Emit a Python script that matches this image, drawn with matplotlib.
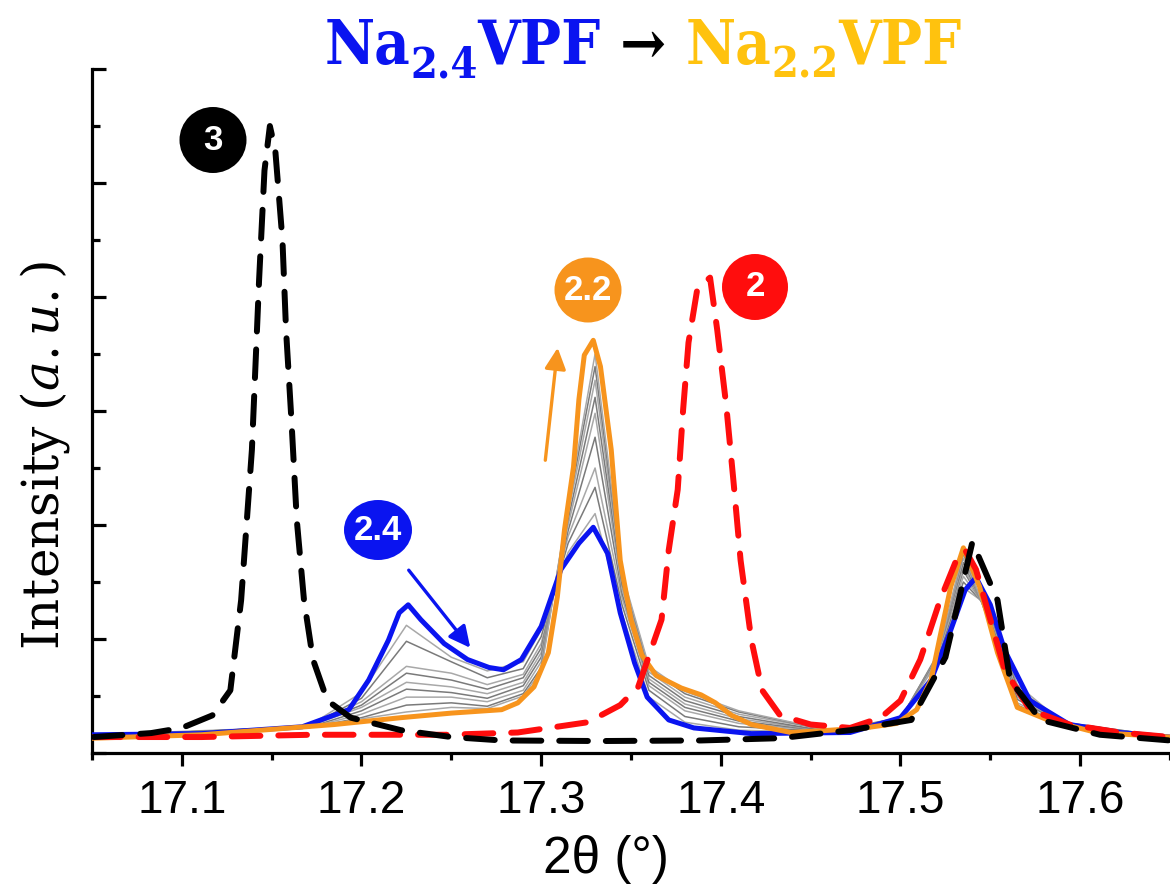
import numpy as np
import matplotlib
matplotlib.use("Agg")
import matplotlib.pyplot as plt
from matplotlib.patches import Ellipse, FancyArrowPatch
from matplotlib.transforms import IdentityTransform

plt.rcParams["mathtext.fontset"] = "dejavuserif"

# sample "3" (black dashed)
x3 = [17.051, 17.083, 17.100, 17.117, 17.127, 17.133, 17.139, 17.143, 17.146, 17.149,
      17.152, 17.156, 17.158, 17.161, 17.164, 17.168, 17.173, 17.181, 17.194, 17.222,
      17.250, 17.278, 17.333, 17.389, 17.433, 17.472, 17.506, 17.525, 17.540, 17.554,
      17.561, 17.578, 17.611, 17.650]
y3 = [0.14, 0.175, 0.22, 0.33, 0.55, 1.34, 2.66, 4.15, 5.11, 5.50,
      5.29, 4.50, 3.71, 2.92, 2.04, 1.34, 0.82, 0.46, 0.31, 0.20,
      0.14, 0.11, 0.105, 0.11, 0.13, 0.20, 0.29, 0.84, 1.85, 1.34,
      0.64, 0.29, 0.16, 0.11]

# sample "2" (red dashed)
x2 = [17.050, 17.111, 17.172, 17.209, 17.248, 17.287, 17.326, 17.344, 17.354, 17.367,
      17.371, 17.376, 17.379, 17.382, 17.387, 17.394, 17.398, 17.403, 17.407, 17.411,
      17.417, 17.423, 17.433, 17.450, 17.472, 17.489, 17.500, 17.511, 17.522, 17.531,
      17.536, 17.542, 17.550, 17.558, 17.572, 17.594, 17.622, 17.650]
y2 = [0.14, 0.14, 0.16, 0.16, 0.16, 0.18, 0.27, 0.42, 0.58, 1.17,
      1.78, 2.31, 3.01, 3.60, 4.08, 4.17, 3.71, 3.05, 2.39, 1.69,
      0.99, 0.55, 0.33, 0.25, 0.22, 0.31, 0.46, 0.82, 1.34, 1.69,
      1.78, 1.61, 1.17, 0.73, 0.38, 0.25, 0.18, 0.14]

# Na2.4 (blue)
x24 = [17.051, 17.111, 17.167, 17.193, 17.204, 17.215, 17.221, 17.226, 17.233, 17.246,
       17.259, 17.271, 17.279, 17.289, 17.300, 17.311, 17.321, 17.329, 17.337, 17.344,
       17.352, 17.359, 17.371, 17.385, 17.417, 17.472, 17.500, 17.517, 17.528, 17.536,
       17.542, 17.550, 17.558, 17.572, 17.594, 17.622, 17.650]
y24 = [0.16, 0.17, 0.23, 0.38, 0.64, 0.99, 1.23, 1.30, 1.17, 0.96,
       0.82, 0.75, 0.73, 0.82, 1.11, 1.61, 1.84, 1.98, 1.75, 1.23,
       0.79, 0.49, 0.29, 0.22, 0.17, 0.18, 0.31, 0.64, 1.08, 1.43,
       1.54, 1.30, 0.90, 0.46, 0.25, 0.18, 0.14]

# Na2.2 (orange)
x22 = [17.051, 17.111, 17.185, 17.222, 17.250, 17.278, 17.287, 17.296, 17.304, 17.309,
       17.313, 17.318, 17.321, 17.324, 17.329, 17.333, 17.339, 17.344, 17.350, 17.356,
       17.364, 17.378, 17.389, 17.397, 17.406, 17.417, 17.439, 17.461, 17.480, 17.498,
       17.509, 17.517, 17.522, 17.528, 17.535, 17.544, 17.554, 17.565, 17.582, 17.609,
       17.650]
y22 = [0.13, 0.16, 0.25, 0.31, 0.35, 0.38, 0.44, 0.58, 0.88, 1.37,
       1.96, 2.51, 3.10, 3.49, 3.62, 3.39, 2.66, 1.69, 1.17, 0.86,
       0.68, 0.57, 0.51, 0.44, 0.33, 0.25, 0.18, 0.20, 0.22, 0.26,
       0.38, 0.64, 1.02, 1.46, 1.80, 1.46, 0.88, 0.40, 0.29, 0.18,
       0.14]

# intermediate scans (grey)
xg = [17.05, 17.17, 17.20, 17.225, 17.25, 17.27, 17.29, 17.30, 17.315, 17.33, 17.345,
      17.36, 17.38, 17.41, 17.46, 17.50, 17.52, 17.535, 17.55, 17.565, 17.59, 17.65]
g1 = [0.16, 0.23, 0.53, 1.12, 0.84, 0.72, 0.80, 1.08, 1.76, 2.10, 1.22, 0.49, 0.27, 0.20, 0.18, 0.31, 0.78, 1.45, 1.28, 0.60, 0.27, 0.14]
g2 = [0.15, 0.23, 0.48, 0.98, 0.80, 0.66, 0.74, 1.02, 1.84, 2.33, 1.30, 0.55, 0.32, 0.23, 0.19, 0.31, 0.80, 1.50, 1.25, 0.57, 0.27, 0.14]
g3 = [0.15, 0.23, 0.45, 0.76, 0.70, 0.60, 0.69, 0.96, 1.90, 2.50, 1.36, 0.59, 0.37, 0.26, 0.19, 0.30, 0.82, 1.55, 1.22, 0.53, 0.26, 0.14]
g4 = [0.15, 0.23, 0.42, 0.70, 0.64, 0.56, 0.66, 0.92, 1.95, 2.77, 1.40, 0.62, 0.40, 0.28, 0.19, 0.30, 0.84, 1.60, 1.20, 0.51, 0.26, 0.14]
g5 = [0.14, 0.23, 0.40, 0.62, 0.58, 0.52, 0.62, 0.88, 2.00, 2.98, 1.44, 0.65, 0.43, 0.30, 0.19, 0.29, 0.85, 1.63, 1.18, 0.49, 0.26, 0.14]
g6 = [0.14, 0.22, 0.37, 0.56, 0.53, 0.48, 0.59, 0.84, 2.05, 3.12, 1.48, 0.68, 0.46, 0.32, 0.19, 0.29, 0.84, 1.67, 1.16, 0.47, 0.26, 0.14]
g7 = [0.14, 0.22, 0.34, 0.49, 0.49, 0.45, 0.55, 0.80, 2.10, 3.27, 1.52, 0.71, 0.49, 0.34, 0.20, 0.28, 0.83, 1.71, 1.14, 0.44, 0.25, 0.14]
g8 = [0.13, 0.22, 0.31, 0.42, 0.44, 0.41, 0.52, 0.75, 2.15, 3.39, 1.56, 0.74, 0.52, 0.36, 0.20, 0.28, 0.82, 1.75, 1.12, 0.42, 0.25, 0.14]
g9 = [0.13, 0.22, 0.30, 0.36, 0.40, 0.39, 0.50, 0.72, 2.18, 3.50, 1.58, 0.76, 0.54, 0.37, 0.20, 0.27, 0.81, 1.77, 1.11, 0.41, 0.25, 0.14]
greys = [g1, g2, g3, g4, g5, g6, g7, g8, g9]

xticks = [17.1, 17.2, 17.3, 17.4, 17.5, 17.6]

BLUE = "#0a14f0"
ORANGE = "#f7941d"
RED = "#ff0d0d"
GOLD = "#ffc20e"

fig = plt.figure(figsize=(11.7, 8.9), dpi=100)
ax = fig.add_axes([92 / 1170, 137 / 890, 1078 / 1170, 684 / 890])

for i, g in enumerate(greys):
    ax.plot(xg, g, color="#7a7a7a" if i % 2 else "#a8a8a8", lw=1.1, zorder=2)

ax.plot(x24, y24, color=BLUE, lw=3.6, zorder=3, solid_joinstyle="round")
ax.plot(x22, y22, color=ORANGE, lw=3.6, zorder=4, solid_joinstyle="round")
ax.plot(x2, y2, color=RED, lw=4.3, ls=(0, (4.8, 3.0)), dash_capstyle="round", zorder=5)
ax.plot(x3, y3, color="black", lw=4.3, ls=(0, (4.8, 3.0)), dash_capstyle="round", zorder=6)

ax.set_xlim(17.05, 17.649)
ax.set_ylim(0, 6)
ax.spines["top"].set_visible(False)
ax.spines["right"].set_visible(False)
for s in ("left", "bottom"):
    ax.spines[s].set_linewidth(2.3)

ax.set_xticks(xticks)
ax.set_xticks(np.arange(17.05, 17.66, 0.1), minor=True)
ax.set_yticks(np.arange(0, 6.01, 1))
ax.set_yticks(np.arange(0.5, 6, 1), minor=True)
ax.set_yticklabels([])
ax.tick_params(axis="x", which="major", direction="out", length=9, width=2.3, pad=10,
               labelsize=33)
ax.tick_params(axis="x", which="minor", direction="out", length=5, width=2.3)
ax.tick_params(axis="y", which="major", direction="in", length=10, width=2.3)
ax.tick_params(axis="y", which="minor", direction="in", length=6, width=2.3)
for lab in ax.get_xticklabels():
    lab.set_family(["Liberation Sans Narrow", "Liberation Sans"])

fig.text(606 / 1170, 1 - 860 / 890, "2θ (°)", ha="center", va="center", fontsize=37,
         family=["Liberation Sans Narrow", "Liberation Sans"])
fig.text(45 / 1170, 1 - 455 / 890, r"Intensity $(a.u.)$", rotation=90, ha="center",
         va="center", fontsize=36, family="DejaVu Serif")

# numbered circles
def badge(cx, cy, w, h, color, label):
    e = Ellipse((cx / 1170, 1 - cy / 890), w / 1170, h / 890, transform=fig.transFigure,
                facecolor=color, edgecolor="none", zorder=10)
    fig.patches.append(e)
    fig.text(cx / 1170, 1 - cy / 890, label, color="white", fontsize=25, fontweight="bold",
             ha="center", va="center", zorder=11, family="Liberation Sans")

badge(213, 140, 67, 66, "black", "3")
badge(378, 530, 68, 60, BLUE, "2.4")
badge(588, 290, 67, 65, ORANGE, "2.2")
badge(755, 287, 66, 66, RED, "2")

# arrows
def arrow(x0, y0, x1, y1, color):
    a = FancyArrowPatch((x0 / 1170, 1 - y0 / 890), (x1 / 1170, 1 - y1 / 890),
                        transform=fig.transFigure, arrowstyle="-|>", mutation_scale=32,
                        color=color, lw=2.4, zorder=9)
    fig.patches.append(a)

arrow(407, 568, 472, 650, BLUE)
arrow(545, 463, 558, 345, ORANGE)

# title with coloured parts
pieces = [("Na", BLUE, 44, 0), ("2.4", BLUE, 31, -14), ("VPF", BLUE, 44, 0),
          (" \u2192 ", "black", 44, 0),
          ("Na", GOLD, 44, 0), ("2.2", GOLD, 31, -14), ("VPF", GOLD, 44, 0)]
renderer = fig.canvas.get_renderer()
texts = []
for s, col, size, dy in pieces:
    t = fig.text(0, 0, s, color=col, fontsize=size, fontweight="bold", va="baseline",
                 family="DejaVu Serif", fontstretch="condensed", transform=IdentityTransform())
    texts.append((t, dy))
widths = [t.get_window_extent(renderer).width for t, _ in texts]
x = 643 - sum(widths) / 2
base = 890 - 64
for (t, dy), w in zip(texts, widths):
    t.set_position((x, base + dy))
    x += w

fig.savefig("out.png", dpi=100)
